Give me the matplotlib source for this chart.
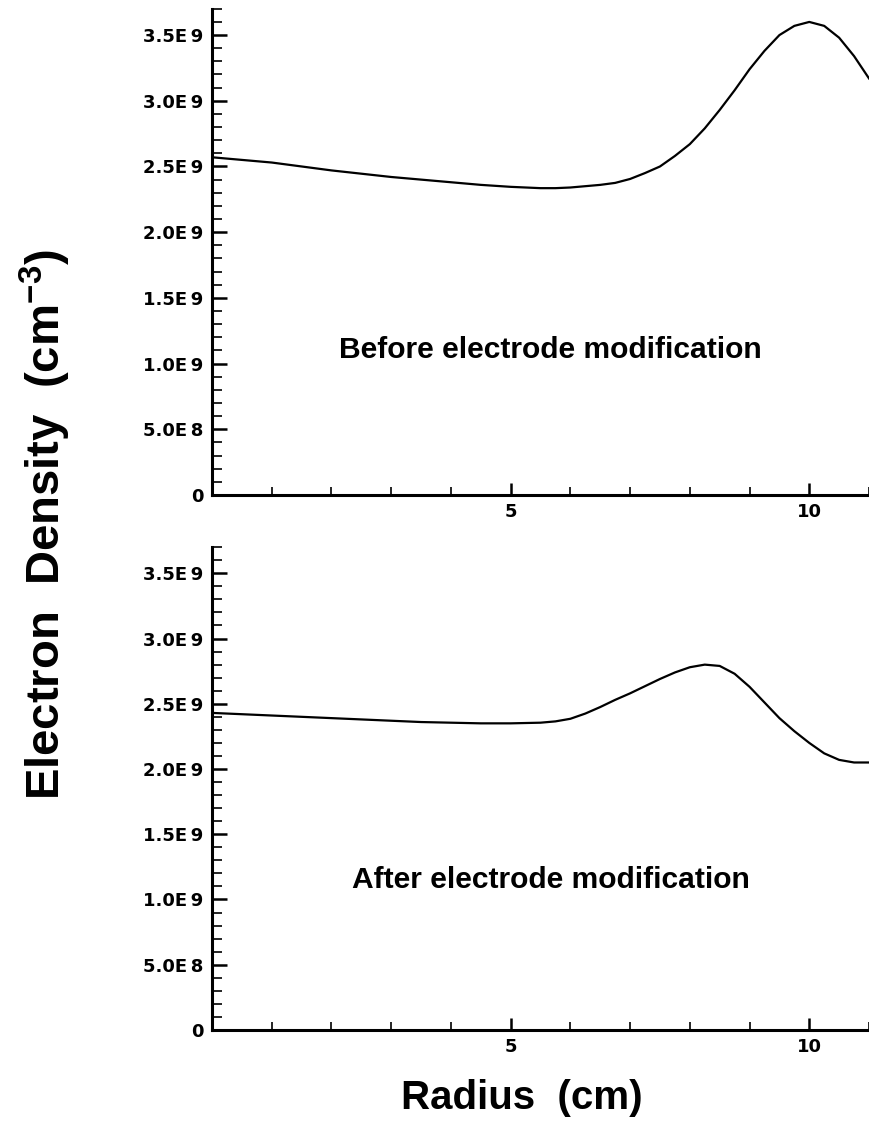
import numpy as np
import matplotlib
matplotlib.use('Agg')
import matplotlib.pyplot as plt

plt.rcParams['mathtext.fontset'] = 'custom'
plt.rcParams['mathtext.rm'] = 'Liberation Sans'
plt.rcParams['mathtext.bf'] = 'Liberation Sans:bold'

# radius (cm) and electron density (units of 1E9 cm^-3)
radius = [0, 0.5, 1, 1.5, 2, 2.5, 3, 3.5, 4, 4.5, 5, 5.5, 5.75, 6, 6.25, 6.5, 6.75, 7, 7.25,
          7.5, 7.75, 8, 8.25, 8.5, 8.75, 9, 9.25, 9.5, 9.75, 10, 10.25, 10.5, 10.75, 11]
density_before = [2.57, 2.55, 2.53, 2.50, 2.47, 2.445, 2.42, 2.40, 2.38, 2.36, 2.345, 2.335, 2.335,
                  2.34, 2.35, 2.36, 2.375, 2.405, 2.45, 2.50, 2.58, 2.67, 2.79, 2.93, 3.08, 3.24,
                  3.38, 3.50, 3.57, 3.60, 3.57, 3.48, 3.34, 3.17]
density_after = [2.43, 2.42, 2.41, 2.40, 2.39, 2.38, 2.37, 2.36, 2.355, 2.35, 2.35, 2.355, 2.365,
                 2.385, 2.425, 2.475, 2.53, 2.58, 2.635, 2.69, 2.74, 2.78, 2.80, 2.79, 2.73, 2.63,
                 2.51, 2.39, 2.29, 2.20, 2.12, 2.07, 2.05, 2.05]

ytick_vals = [0, 0.5, 1.0, 1.5, 2.0, 2.5, 3.0, 3.5]
ytick_labels = ['0', '5.0E\u20098', '1.0E\u20099', '1.5E\u20099', '2.0E\u20099',
                '2.5E\u20099', '3.0E\u20099', '3.5E\u20099']
xtick_vals = [5, 10]
xtick_labels = ['5', '10']
panel_labels = ['Before electrode modification', 'After electrode modification']

fig = plt.figure(figsize=(8.69, 11.28), dpi=100)
ax1 = fig.add_axes([0.244, 0.5612, 0.756, 0.431])
ax2 = fig.add_axes([0.244, 0.0869, 0.756, 0.428])

tick_font = dict(family='DejaVu Sans', weight='bold', size=13)

for ax, dens, lab, ly in [(ax1, density_before, panel_labels[0], 1.10),
                          (ax2, density_after, panel_labels[1], 1.15)]:
    ax.plot(radius, dens, color='black', lw=1.6)
    ax.set_xlim(0, 11)
    ax.set_ylim(0, 3.7)
    for s in ['top', 'right']:
        ax.spines[s].set_visible(False)
    for s in ['left', 'bottom']:
        ax.spines[s].set_linewidth(2.2)
    ax.set_yticks(ytick_vals)
    ax.set_yticklabels(ytick_labels, fontdict=tick_font)
    ax.set_yticks(np.arange(0, 3.71, 0.1), minor=True)
    ax.set_xticks(xtick_vals)
    ax.set_xticklabels(xtick_labels, fontdict=tick_font)
    ax.set_xticks([1, 2, 3, 4, 6, 7, 8, 9, 11], minor=True)
    ax.tick_params(axis='y', which='major', direction='in', length=10.5, width=1.8, pad=6)
    ax.tick_params(axis='y', which='minor', direction='in', length=7.5, width=1.2)
    ax.tick_params(axis='x', which='major', direction='in', length=9, width=1.8, pad=6)
    ax.tick_params(axis='x', which='minor', direction='in', length=5.5, width=1.2)
    ax.text(5.67, ly, lab, ha='center', va='center', fontsize=21.6,
            fontweight='bold', family='Liberation Sans')

fig.text(0.052, 0.5346, r'Electron  Density  (cm$^{\mathbf{-3}}$)', rotation=90,
         ha='center', va='center', fontsize=34, fontweight='bold', family='Liberation Sans')
fig.text(0.60, 0.027, 'Radius  (cm)', ha='center', va='center', fontsize=29,
         fontweight='bold', family='Liberation Sans')

fig.savefig('out.png', dpi=100)
